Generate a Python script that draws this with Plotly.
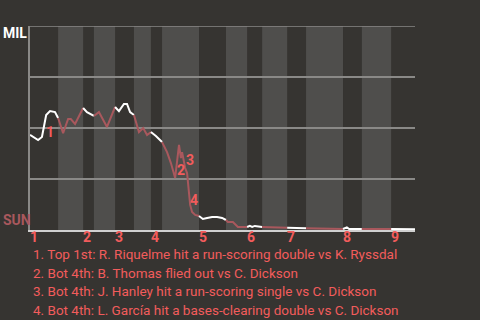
import numpy as np
import plotly.graph_objects as go

# Game progress (0..100) and MIL win probability
prog = [0, 0.5, 2.1, 3.1, 3.6, 4.2, 5.2, 6.5, 7.3,
        8.6, 9.9, 10.6, 11.7, 13.8,
        14.8, 16.6,
        17.9, 20.0, 22.1,
        23.1, 24.4, 25.2, 26.0, 27.0,
        28.3, 29.4, 30.4, 31.4,
        32.7, 34.3,
        35.6, 36.6, 37.7, 38.7, 39.2, 39.5, 40.3, 40.8, 41.3, 41.6, 42.1, 42.9, 43.9,
        44.9, 46.0, 47.3, 48.6, 49.9, 50.9,
        51.4, 52.7, 54.0, 56.4,
        57.1, 57.7, 58.4, 60.3,
        66.8,
        71.7,
        81.3,
        82.3, 82.9, 86.2,
        93.8,
        100]
wp = [0.466, 0.461, 0.441, 0.456, 0.50, 0.564, 0.583, 0.578, 0.549,
      0.475, 0.544, 0.544, 0.520, 0.598,
      0.578, 0.559,
      0.578, 0.505, 0.603,
      0.583, 0.618, 0.618, 0.578, 0.564,
      0.480, 0.500, 0.466, 0.480,
      0.461, 0.431,
      0.382, 0.328, 0.255, 0.417, 0.353, 0.382, 0.304, 0.279, 0.172, 0.123, 0.088, 0.074, 0.069,
      0.054, 0.059, 0.064, 0.064, 0.059, 0.049,
      0.039, 0.039, 0.015, 0.015,
      0.020, 0.015, 0.020, 0.015,
      0.011,
      0.008,
      0.005,
      0.013, 0.005, 0.005,
      0.005,
      0.004]

# half-inning boundaries (top, bottom alternating)
half_bounds = [0, 7.3, 13.8, 16.6, 22.1, 27.0, 31.4, 34.3, 43.9, 50.9,
               56.4, 60.3, 66.8, 71.7, 81.3, 86.2, 93.8, 100]
inning_labels = ["1", "2", "3", "4", "5", "6", "7", "8", "9"]

# key events
event_ids = ["1", "2", "3", "4"]
event_x = [5.2, 39.2, 41.5, 42.6]
event_y = [0.48, 0.295, 0.343, 0.147]
event_texts = [
    "1. Top 1st: R. Riquelme hit a run-scoring double vs K. Ryssdal",
    "2. Bot 4th: B. Thomas flied out vs C. Dickson",
    "3. Bot 4th: J. Hanley hit a run-scoring single vs C. Dickson",
    "4. Bot 4th: L. García hit a bases-clearing double vs C. Dickson",
]

BG = "#363431"
BAND = "#4f4e4c"
GRID = "#8a8987"
RED_LINE = "#a9585d"
RED_TXT = "#f25c5c"
FONT = "Roboto, sans-serif"

fig = go.Figure()
px_ = np.array(prog)
wp_ = np.array(wp)
for i in range(len(half_bounds) - 1):
    a, b = half_bounds[i], half_bounds[i + 1]
    mask = (px_ > a) & (px_ < b)
    xs = [a] + list(px_[mask]) + [b]
    ys = [np.interp(a, px_, wp_)] + list(wp_[mask]) + [np.interp(b, px_, wp_)]
    fig.add_trace(go.Scatter(x=xs, y=ys, mode="lines",
                             line=dict(color="#ffffff" if i % 2 == 0 else RED_LINE, width=2),
                             hoverinfo="skip", showlegend=False))

# bottom-half bands
for i in range(1, len(half_bounds) - 1, 2):
    fig.add_shape(type="rect", x0=half_bounds[i], x1=half_bounds[i + 1], y0=0, y1=1,
                  xref="x", yref="paper", fillcolor=BAND, line_width=0, layer="below")
# top border gridline
fig.add_shape(type="line", x0=0, x1=1, y0=1, y1=1, xref="paper", yref="y",
              line=dict(color=GRID, width=1.5), layer="below")

for t, x, y in zip(event_ids, event_x, event_y):
    fig.add_annotation(x=x, y=y, text=t, showarrow=False,
                       font=dict(color=RED_TXT, size=14, family=FONT, weight="bold"))

for k, t in enumerate(event_texts):
    fig.add_annotation(xref="paper", yref="paper", x=0.003, y=-0.12 - k * 0.09,
                       xanchor="left", yanchor="middle", text=t, showarrow=False,
                       font=dict(color=RED_TXT, size=13.5, family=FONT))

# inning labels
for lab, x in zip(inning_labels, half_bounds[0::2]):
    fig.add_annotation(x=x, xref="x", yref="paper", y=-0.036, xanchor="left",
                       yanchor="middle", xshift=-2, text=lab, showarrow=False,
                       font=dict(color=RED_TXT, size=14, family=FONT, weight="bold"))

fig.add_annotation(xref="paper", yref="paper", x=-0.076, y=0.966, xanchor="left",
                   yanchor="middle", text="MIL", showarrow=False,
                   font=dict(color="#ffffff", size=14, family=FONT, weight="bold"))
fig.add_annotation(xref="paper", yref="paper", x=-0.076, y=0.049, xanchor="left",
                   yanchor="middle", text="SUN", showarrow=False,
                   font=dict(color=RED_LINE, size=14, family=FONT, weight="bold"))

fig.update_xaxes(range=[0, 100], showticklabels=False, ticks="", showgrid=False,
                 zeroline=False, showline=True, linecolor="#d0d0d0", linewidth=2)
fig.update_yaxes(range=[0, 1], tickvals=[0.25, 0.5, 0.75], showticklabels=False,
                 showgrid=True, gridcolor=GRID, gridwidth=1.5, zeroline=False,
                 showline=True, linecolor=GRID, linewidth=1.5)

fig.update_layout(width=480, height=320, paper_bgcolor=BG, plot_bgcolor=BG,
                  margin=dict(l=30, r=65, t=26, b=90), showlegend=False,
                  font=dict(family=FONT))
fig.write_html("out.html")
